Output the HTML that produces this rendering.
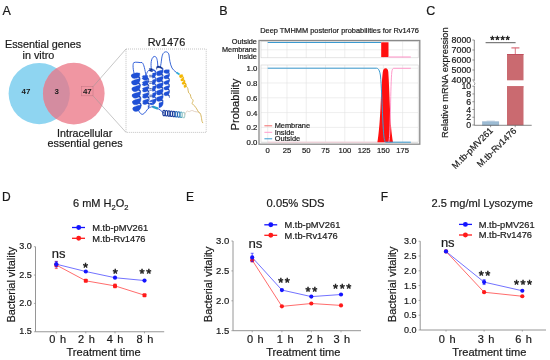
<!DOCTYPE html>
<html><head><meta charset="utf-8"><style>
html,body{margin:0;padding:0;background:#fff;}
svg{display:block;font-family:"Liberation Sans", sans-serif;will-change:transform;filter:blur(0.3px);}
text{stroke:#1a1a1a;stroke-width:0.2px;}
text.lt{stroke-width:0.2px;}
</style></head><body>
<svg width="550" height="360" viewBox="0 0 550 360">
<rect width="550" height="360" fill="#fff"/>
<text x="2.60" y="14.80" font-size="12.5" text-anchor="start" fill="#1a1a1a" >A</text>
<text x="219.30" y="14.80" font-size="12.5" text-anchor="start" fill="#1a1a1a" >B</text>
<text x="426.20" y="14.70" font-size="12.5" text-anchor="start" fill="#1a1a1a" >C</text>
<text x="1.90" y="201.20" font-size="12" text-anchor="start" fill="#1a1a1a" >D</text>
<text x="186.00" y="201.40" font-size="12" text-anchor="start" fill="#1a1a1a" >E</text>
<text x="380.80" y="200.80" font-size="12" text-anchor="start" fill="#1a1a1a" >F</text>
<text x="5.00" y="47.90" font-size="10.8" text-anchor="start" fill="#1a1a1a" >Essential genes</text>
<text x="22.50" y="58.70" font-size="10.8" text-anchor="start" fill="#1a1a1a" >in vitro</text>
<defs><clipPath id="cb"><circle cx="39.2" cy="93.6" r="30.6"/></clipPath></defs>
<circle cx="39.2" cy="93.6" r="30.6" fill="#8fd5f1"/>
<circle cx="73.8" cy="93.6" r="30.8" fill="#f096a2"/>
<circle cx="73.8" cy="93.6" r="30.8" fill="#d48ca0" clip-path="url(#cb)"/>
<text x="26.00" y="94.20" font-size="7.9" text-anchor="middle" fill="#1a1a1a" font-weight="bold" style="stroke-width:0">47</text>
<text x="56.60" y="94.20" font-size="7.9" text-anchor="middle" fill="#1a1a1a" font-weight="bold" style="stroke-width:0">3</text>
<text x="87.30" y="94.20" font-size="7.9" text-anchor="middle" fill="#1a1a1a" font-weight="bold" style="stroke-width:0">47</text>
<rect x="81.3" y="86.7" width="11.7" height="9.1" fill="none" stroke="#c07482" stroke-width="0.5"/>
<line x1="93" y1="86.7" x2="126" y2="49" stroke="#999" stroke-width="0.55"/>
<line x1="93" y1="95.8" x2="126" y2="132.4" stroke="#999" stroke-width="0.55"/>
<rect x="126" y="49" width="80.2" height="83.4" fill="none" stroke="#b4b4b4" stroke-width="0.8" stroke-dasharray="1,1"/>
<text x="147.70" y="45.90" font-size="10.9" text-anchor="start" fill="#1a1a1a" >Rv1476</text>
<text x="57.00" y="136.90" font-size="10.7" text-anchor="start" fill="#1a1a1a" >Intracellular</text>
<text x="47.50" y="147.40" font-size="10.8" text-anchor="start" fill="#1a1a1a" >essential genes</text>
<path d="M134.5,75 C133,70 132.5,64 133.8,62.6 C136,61.5 140,63 142,62.5 C144,64 145,70 146,76" fill="none" stroke="#1f50d6" stroke-width="0.9"/>
<path d="M146,76 C147,72 148,70 150,70" fill="none" stroke="#1f50d6" stroke-width="0.9"/>
<path d="M151.5,70 C150.5,64 151,58 154,56.5 C156,56 157,58 157.5,62 L158,68" fill="none" stroke="#1f50d6" stroke-width="0.9"/>
<path d="M160,68 C162,62 161,55 164,52.5 C166,51 168.5,52 169,55 C169.5,59 170,64 172,68 C174,71 176,72 177.6,73.3" fill="none" stroke="#2458d0" stroke-width="0.9"/>
<path d="M176.5,72.5 L179.5,74.5" stroke="#30b0d8" stroke-width="1.8"/>
<path d="M137.7,108.4 C139,112 141,115 143,114.2 C145.5,113 146.5,110 148.4,108.4" fill="none" stroke="#1f50d6" stroke-width="0.9"/>
<path d="M148.4,108.4 C150,107 151.5,107 153,106.4" fill="none" stroke="#1f50d6" stroke-width="0.9"/>
<path d="M152.5,106.6 L158,108.6" stroke="#2aa0c8" stroke-width="2.2"/>
<path d="M158,108.6 C159.5,109.5 161,110.5 162.5,112" fill="none" stroke="#1f50d6" stroke-width="0.9"/>
<polygon points="131.44,75.05 131.54,74.93 131.85,74.81 132.34,74.72 133.01,74.68 133.81,74.69 134.70,74.76 135.64,74.92 136.59,75.15 137.49,75.47 138.30,75.86 138.99,76.32 139.51,76.84 139.85,77.40 139.98,77.98 140.05,79.54 139.92,78.95 139.58,78.39 139.06,77.88 138.37,77.42 137.56,77.03 136.65,76.71 135.71,76.48 134.77,76.32 133.87,76.24 133.08,76.23 132.41,76.28 131.92,76.37 131.61,76.49 131.51,76.61" fill="#1238a8" stroke="#1238a8" stroke-width="0.3"/>
<polygon points="131.73,81.65 131.83,81.52 132.14,81.41 132.63,81.32 133.30,81.27 134.10,81.28 134.99,81.36 135.93,81.51 136.88,81.75 137.78,82.06 138.59,82.45 139.28,82.91 139.80,83.43 140.14,83.99 140.27,84.58 140.34,86.13 140.20,85.55 139.87,84.99 139.35,84.47 138.66,84.01 137.85,83.62 136.94,83.31 136.00,83.07 135.06,82.92 134.16,82.84 133.37,82.83 132.70,82.87 132.21,82.96 131.90,83.08 131.80,83.21" fill="#1238a8" stroke="#1238a8" stroke-width="0.3"/>
<polygon points="132.02,88.24 132.12,88.12 132.43,88.00 132.92,87.91 133.59,87.86 134.38,87.87 135.28,87.95 136.22,88.11 137.16,88.34 138.07,88.66 138.88,89.05 139.57,89.51 140.09,90.02 140.43,90.58 140.56,91.17 140.62,92.73 140.49,92.14 140.16,91.58 139.63,91.06 138.95,90.61 138.13,90.21 137.23,89.90 136.29,89.66 135.34,89.51 134.45,89.43 133.65,89.42 132.99,89.47 132.49,89.56 132.19,89.67 132.09,89.80" fill="#1238a8" stroke="#1238a8" stroke-width="0.3"/>
<polygon points="132.31,94.83 132.41,94.71 132.72,94.59 133.21,94.50 133.88,94.46 134.67,94.47 135.57,94.55 136.51,94.70 137.45,94.93 138.36,95.25 139.17,95.64 139.86,96.10 140.38,96.62 140.71,97.18 140.85,97.76 140.91,99.32 140.78,98.74 140.45,98.18 139.92,97.66 139.24,97.20 138.42,96.81 137.52,96.49 136.58,96.26 135.63,96.10 134.74,96.03 133.94,96.02 133.28,96.06 132.78,96.15 132.48,96.27 132.38,96.39" fill="#1238a8" stroke="#1238a8" stroke-width="0.3"/>
<polygon points="132.60,101.43 132.70,101.30 133.00,101.19 133.50,101.10 134.16,101.05 134.96,101.06 135.85,101.14 136.80,101.29 137.74,101.53 138.64,101.84 139.46,102.23 140.14,102.69 140.67,103.21 141.00,103.77 141.13,104.36 141.20,105.92 141.07,105.33 140.74,104.77 140.21,104.25 139.53,103.79 138.71,103.40 137.81,103.09 136.86,102.85 135.92,102.70 135.03,102.62 134.23,102.61 133.57,102.66 133.07,102.75 132.77,102.86 132.67,102.99" fill="#1238a8" stroke="#1238a8" stroke-width="0.3"/>
<polygon points="132.89,108.02 132.92,107.95 133.02,107.88 133.19,107.81 133.42,107.75 133.71,107.70 134.05,107.67 134.45,107.64 134.89,107.64 135.37,107.66 135.88,107.70 136.41,107.77 136.95,107.86 137.49,107.98 138.03,108.12 138.10,109.68 137.56,109.54 137.02,109.42 136.48,109.33 135.95,109.26 135.44,109.22 134.96,109.20 134.52,109.20 134.12,109.22 133.78,109.26 133.48,109.31 133.25,109.37 133.09,109.44 132.99,109.51 132.96,109.58" fill="#1238a8" stroke="#1238a8" stroke-width="0.3"/>
<polygon points="139.77,73.17 139.66,73.07 139.34,72.99 138.84,72.93 138.17,72.88 137.37,72.87 136.49,72.87 135.55,72.90 134.63,73.19 133.75,73.50 132.97,73.82 132.32,74.16 131.83,74.50 131.54,74.84 131.45,75.18 131.50,76.48 131.64,77.05 131.97,77.57 132.49,78.01 133.17,78.32 133.97,78.49 134.86,78.48 135.79,78.30 136.72,78.16 137.59,77.85 138.37,77.39 139.01,76.78 139.48,76.07 139.75,75.28 139.82,74.47" fill="#1f50d6" stroke="#1f50d6" stroke-width="0.3"/>
<polygon points="139.98,78.11 139.89,78.25 139.58,78.41 139.09,78.58 138.43,78.77 137.64,78.99 136.76,79.23 135.84,79.49 134.92,79.78 134.04,80.09 133.26,80.41 132.61,80.75 132.12,81.09 131.83,81.44 131.74,81.78 131.79,83.08 131.92,83.65 132.26,84.17 132.78,84.60 133.46,84.92 134.26,85.08 135.15,85.07 136.08,84.89 137.00,84.52 137.86,83.98 138.63,83.27 139.26,82.43 139.72,81.48 139.98,80.46 140.04,79.41" fill="#1f50d6" stroke="#1f50d6" stroke-width="0.3"/>
<polygon points="140.27,84.71 140.17,84.85 139.87,85.00 139.38,85.17 138.72,85.37 137.93,85.58 137.05,85.82 136.13,86.09 135.21,86.38 134.33,86.68 133.55,87.01 132.90,87.34 132.41,87.69 132.12,88.03 132.03,88.37 132.08,89.67 132.21,90.24 132.55,90.76 133.07,91.20 133.75,91.51 134.55,91.67 135.44,91.67 136.37,91.48 137.29,91.12 138.15,90.57 138.92,89.87 139.55,89.02 140.00,88.08 140.27,87.06 140.33,86.00" fill="#1f50d6" stroke="#1f50d6" stroke-width="0.3"/>
<polygon points="140.56,91.30 140.46,91.44 140.16,91.59 139.67,91.77 139.01,91.96 138.22,92.18 137.34,92.42 136.42,92.68 135.50,92.97 134.62,93.28 133.84,93.60 133.19,93.94 132.70,94.28 132.41,94.62 132.31,94.96 132.37,96.26 132.50,96.83 132.84,97.36 133.36,97.79 134.04,98.10 134.84,98.27 135.73,98.26 136.66,98.08 137.57,97.71 138.44,97.16 139.21,96.46 139.83,95.62 140.29,94.67 140.56,93.65 140.62,92.60" fill="#1f50d6" stroke="#1f50d6" stroke-width="0.3"/>
<polygon points="140.85,97.89 140.75,98.03 140.45,98.19 139.95,98.36 139.30,98.55 138.51,98.77 137.63,99.01 136.71,99.28 135.79,99.56 134.91,99.87 134.13,100.19 133.48,100.53 132.99,100.87 132.69,101.22 132.60,101.56 132.66,102.86 132.79,103.43 133.13,103.95 133.65,104.38 134.32,104.70 135.13,104.86 136.02,104.86 136.94,104.67 137.86,104.30 138.73,103.76 139.49,103.05 140.12,102.21 140.58,101.26 140.85,100.24 140.91,99.19" fill="#1f50d6" stroke="#1f50d6" stroke-width="0.3"/>
<polygon points="141.14,104.49 141.04,104.63 140.74,104.78 140.24,104.95 139.59,105.15 138.80,105.36 137.92,105.60 137.00,105.87 136.07,106.16 135.20,106.46 134.42,106.79 133.77,107.12 133.28,107.47 132.98,107.81 132.89,108.15 132.95,109.45 133.08,110.02 133.41,110.54 133.93,110.98 134.61,111.29 135.42,111.45 136.31,111.45 137.23,111.26 138.15,110.90 139.02,110.35 139.78,109.65 140.41,108.81 140.87,107.86 141.14,106.84 141.20,105.79" fill="#1f50d6" stroke="#1f50d6" stroke-width="0.3"/>
<polygon points="143.03,76.31 143.63,76.33 144.32,76.41 145.07,76.55 145.84,76.76 146.58,77.04 147.27,77.39 147.87,77.79 148.34,78.25 148.67,78.75 148.84,79.28 148.84,79.81 148.67,80.34 148.34,80.85 147.87,81.33 147.90,82.88 148.37,82.41 148.70,81.90 148.87,81.37 148.87,80.84 148.70,80.31 148.37,79.81 147.90,79.35 147.30,78.95 146.61,78.60 145.87,78.32 145.10,78.11 144.35,77.97 143.66,77.89 143.06,77.87" fill="#1238a8" stroke="#1238a8" stroke-width="0.3"/>
<polygon points="143.15,82.51 143.76,82.53 144.45,82.61 145.20,82.75 145.96,82.96 146.71,83.24 147.40,83.59 147.99,83.99 148.47,84.45 148.80,84.95 148.97,85.48 148.97,86.01 148.80,86.54 148.47,87.05 147.99,87.52 148.03,89.08 148.50,88.61 148.83,88.10 149.00,87.57 149.00,87.04 148.83,86.51 148.50,86.01 148.02,85.55 147.43,85.14 146.74,84.80 145.99,84.52 145.23,84.31 144.48,84.17 143.79,84.09 143.18,84.07" fill="#1238a8" stroke="#1238a8" stroke-width="0.3"/>
<polygon points="143.28,88.71 143.88,88.73 144.57,88.80 145.32,88.95 146.09,89.16 146.83,89.44 147.52,89.78 148.12,90.19 148.59,90.65 148.92,91.15 149.09,91.68 149.09,92.21 148.92,92.74 148.59,93.25 148.12,93.72 148.15,95.28 148.63,94.81 148.96,94.30 149.12,93.77 149.12,93.24 148.96,92.71 148.63,92.21 148.15,91.75 147.55,91.34 146.86,91.00 146.12,90.72 145.35,90.50 144.61,90.36 143.91,90.29 143.31,90.27" fill="#1238a8" stroke="#1238a8" stroke-width="0.3"/>
<polygon points="143.41,94.91 144.01,94.93 144.70,95.00 145.45,95.14 146.21,95.35 146.96,95.63 147.65,95.98 148.24,96.39 148.72,96.85 149.05,97.35 149.22,97.87 149.22,98.41 149.05,98.94 148.72,99.45 148.25,99.92 148.28,101.48 148.75,101.01 149.08,100.50 149.25,99.97 149.25,99.43 149.08,98.91 148.75,98.41 148.28,97.95 147.68,97.54 146.99,97.19 146.25,96.91 145.48,96.70 144.73,96.56 144.04,96.49 143.44,96.47" fill="#1238a8" stroke="#1238a8" stroke-width="0.3"/>
<polygon points="143.53,101.11 144.13,101.13 144.83,101.20 145.57,101.34 146.34,101.55 147.09,101.83 147.77,102.18 148.37,102.59 148.85,103.05 149.18,103.55 149.35,104.07 149.35,104.61 149.18,105.14 148.85,105.65 148.37,106.12 148.40,107.68 148.88,107.21 149.21,106.70 149.38,106.17 149.38,105.63 149.21,105.11 148.88,104.61 148.40,104.15 147.81,103.74 147.12,103.39 146.37,103.11 145.61,102.90 144.86,102.76 144.17,102.69 143.56,102.67" fill="#1238a8" stroke="#1238a8" stroke-width="0.3"/>
<polygon points="147.75,75.55 147.15,75.52 146.46,75.50 145.71,75.50 144.95,75.51 144.21,75.55 143.53,75.59 142.94,75.66 142.48,75.95 142.17,76.25 142.02,76.55 142.03,76.63 142.21,76.54 142.55,76.47 143.03,76.44 143.06,77.74 142.57,77.77 142.23,77.84 142.06,77.93 142.05,78.19 142.22,78.65 142.55,79.07 143.02,79.39 143.62,79.83 144.30,80.13 145.05,80.28 145.81,80.28 146.55,80.12 147.23,79.80 147.83,79.36" fill="#1f50d6" stroke="#1f50d6" stroke-width="0.3"/>
<polygon points="147.84,80.20 147.25,80.39 146.56,80.59 145.82,80.81 145.06,81.05 144.33,81.30 143.65,81.57 143.07,81.85 142.61,82.15 142.30,82.45 142.14,82.75 142.16,82.83 142.33,82.74 142.67,82.67 143.16,82.64 143.18,83.94 142.70,83.97 142.36,84.04 142.18,84.13 142.18,84.39 142.34,84.85 142.67,85.27 143.15,85.59 143.74,85.81 144.42,85.89 145.16,85.82 145.92,85.59 146.65,85.21 147.33,84.68 147.92,84.01" fill="#1f50d6" stroke="#1f50d6" stroke-width="0.3"/>
<polygon points="147.97,86.40 147.37,86.58 146.69,86.79 145.95,87.01 145.19,87.25 144.45,87.50 143.78,87.77 143.20,88.05 142.74,88.35 142.42,88.65 142.27,88.95 142.28,89.02 142.46,88.94 142.80,88.87 143.28,88.84 143.31,90.14 142.83,90.17 142.49,90.24 142.31,90.32 142.30,90.59 142.47,91.05 142.80,91.46 143.27,91.79 143.86,92.01 144.55,92.09 145.29,92.02 146.04,91.79 146.78,91.41 147.46,90.87 148.05,90.21" fill="#1f50d6" stroke="#1f50d6" stroke-width="0.3"/>
<polygon points="148.10,92.60 147.50,92.78 146.81,92.99 146.07,93.21 145.31,93.44 144.58,93.70 143.90,93.97 143.32,94.25 142.86,94.54 142.55,94.84 142.39,95.15 142.41,95.22 142.59,95.14 142.92,95.07 143.41,95.04 143.43,96.34 142.95,96.37 142.61,96.44 142.43,96.52 142.43,96.79 142.60,97.25 142.92,97.66 143.40,97.99 143.99,98.20 144.67,98.28 145.41,98.21 146.17,97.99 146.91,97.60 147.59,97.07 148.17,96.41" fill="#1f50d6" stroke="#1f50d6" stroke-width="0.3"/>
<polygon points="148.22,98.80 147.62,98.98 146.94,99.18 146.20,99.40 145.44,99.64 144.71,99.90 144.03,100.17 143.45,100.45 142.99,100.74 142.67,101.04 142.52,101.34 142.53,101.42 142.71,101.34 143.05,101.27 143.53,101.24 143.56,102.54 143.08,102.57 142.74,102.64 142.56,102.72 142.55,102.98 142.72,103.45 143.05,103.86 143.52,104.19 144.12,104.40 144.80,104.48 145.54,104.41 146.29,104.19 147.03,103.80 147.71,103.27 148.30,102.61" fill="#1f50d6" stroke="#1f50d6" stroke-width="0.3"/>
<polygon points="148.35,104.99 148.34,105.00 148.33,105.00 148.32,105.00 148.31,105.01 148.30,105.01 148.29,105.01 148.28,105.02 148.27,105.02 148.26,105.02 148.25,105.03 148.24,105.03 148.23,105.03 148.22,105.04 148.21,105.04 148.29,108.98 148.30,108.97 148.31,108.96 148.32,108.95 148.33,108.93 148.34,108.92 148.35,108.91 148.36,108.90 148.37,108.88 148.38,108.87 148.39,108.86 148.40,108.84 148.41,108.83 148.42,108.82 148.43,108.80" fill="#1f50d6" stroke="#1f50d6" stroke-width="0.3"/>
<polygon points="152.50,70.12 151.75,70.08 151.04,69.97 150.41,69.80 149.88,69.58 149.49,69.31 149.26,69.01 149.20,68.70 149.30,68.62 149.58,68.56 150.00,68.54 150.55,68.56 151.21,68.63 151.94,68.76 152.70,68.97 152.71,70.53 151.95,70.32 151.22,70.19 150.56,70.12 150.01,70.10 149.58,70.12 149.31,70.18 149.21,70.26 149.27,70.57 149.50,70.87 149.89,71.14 150.41,71.36 151.05,71.53 151.76,71.64 152.51,71.68" fill="#0d2f90" stroke="#0d2f90" stroke-width="0.3"/>
<polygon points="152.53,75.07 151.78,75.27 151.07,75.39 150.44,75.46 149.92,75.47 149.53,75.44 149.30,75.38 149.24,75.30 149.34,75.22 149.61,75.16 150.04,75.14 150.59,75.16 151.25,75.23 151.97,75.36 152.73,75.57 152.74,77.13 151.98,76.92 151.26,76.79 150.60,76.71 150.05,76.70 149.62,76.72 149.35,76.78 149.24,76.86 149.31,76.94 149.54,77.00 149.92,77.03 150.45,77.02 151.08,76.95 151.79,76.83 152.54,76.63" fill="#0d2f90" stroke="#0d2f90" stroke-width="0.3"/>
<polygon points="152.57,81.67 151.82,81.87 151.11,81.99 150.48,82.06 149.95,82.07 149.57,82.04 149.34,81.97 149.27,81.90 149.38,81.82 149.65,81.76 150.08,81.74 150.63,81.75 151.29,81.83 152.01,81.96 152.77,82.17 152.78,83.73 152.02,83.52 151.30,83.39 150.64,83.31 150.08,83.30 149.66,83.32 149.39,83.38 149.28,83.46 149.35,83.53 149.58,83.60 149.96,83.63 150.49,83.62 151.12,83.55 151.83,83.43 152.58,83.23" fill="#0d2f90" stroke="#0d2f90" stroke-width="0.3"/>
<polygon points="152.61,88.27 151.86,88.47 151.15,88.59 150.51,88.66 149.99,88.67 149.61,88.64 149.38,88.57 149.31,88.50 149.42,88.42 149.69,88.36 150.11,88.34 150.67,88.35 151.32,88.43 152.05,88.56 152.81,88.77 152.82,90.33 152.06,90.12 151.33,89.99 150.68,89.91 150.12,89.90 149.70,89.92 149.43,89.98 149.32,90.06 149.38,90.13 149.61,90.20 150.00,90.23 150.52,90.22 151.16,90.15 151.87,90.03 152.62,89.83" fill="#0d2f90" stroke="#0d2f90" stroke-width="0.3"/>
<polygon points="152.65,94.87 151.90,95.07 151.18,95.19 150.55,95.26 150.03,95.27 149.64,95.24 149.41,95.17 149.35,95.10 149.46,95.02 149.73,94.96 150.15,94.94 150.71,94.95 151.36,95.03 152.09,95.16 152.85,95.37 152.86,96.93 152.10,96.72 151.37,96.59 150.72,96.51 150.16,96.50 149.74,96.52 149.47,96.58 149.36,96.66 149.42,96.73 149.65,96.80 150.04,96.83 150.56,96.82 151.19,96.75 151.90,96.63 152.66,96.43" fill="#0d2f90" stroke="#0d2f90" stroke-width="0.3"/>
<polygon points="152.70,69.10 153.45,69.38 154.17,69.72 154.80,70.13 155.33,70.59 155.71,71.09 155.95,71.62 156.01,72.12 155.91,72.25 155.64,72.40 155.21,72.55 154.66,72.72 154.00,72.91 153.28,73.12 152.52,73.35 152.55,78.35 153.31,78.05 154.03,77.59 154.68,76.98 155.23,76.24 155.65,75.40 155.92,74.48 156.02,73.53 155.96,72.92 155.72,72.39 155.33,71.89 154.81,71.43 154.17,71.02 153.46,70.68 152.70,70.40" fill="#1f50d6" stroke="#1f50d6" stroke-width="0.3"/>
<polygon points="152.74,75.70 153.49,75.98 154.20,76.32 154.84,76.73 155.36,77.19 155.75,77.69 155.99,78.22 156.05,78.72 155.95,78.85 155.67,79.00 155.25,79.15 154.70,79.32 154.04,79.51 153.32,79.72 152.56,79.95 152.59,84.95 153.35,84.65 154.07,84.19 154.72,83.58 155.27,82.84 155.69,82.00 155.96,81.08 156.06,80.13 155.99,79.52 155.76,78.99 155.37,78.49 154.85,78.03 154.21,77.62 153.50,77.28 152.74,77.00" fill="#1f50d6" stroke="#1f50d6" stroke-width="0.3"/>
<polygon points="152.77,82.30 153.53,82.58 154.24,82.92 154.88,83.33 155.40,83.79 155.79,84.29 156.02,84.82 156.09,85.32 155.98,85.45 155.71,85.60 155.29,85.75 154.74,85.92 154.08,86.11 153.36,86.32 152.60,86.55 152.63,91.55 153.39,91.25 154.11,90.79 154.76,90.18 155.31,89.44 155.73,88.60 156.00,87.68 156.10,86.72 156.03,86.12 155.80,85.59 155.41,85.09 154.88,84.63 154.25,84.22 153.54,83.88 152.78,83.60" fill="#1f50d6" stroke="#1f50d6" stroke-width="0.3"/>
<polygon points="152.81,88.90 153.57,89.18 154.28,89.52 154.92,89.93 155.44,90.39 155.83,90.89 156.06,91.42 156.13,91.92 156.02,92.05 155.75,92.20 155.33,92.35 154.77,92.52 154.12,92.71 153.40,92.92 152.64,93.15 152.67,98.15 153.42,97.85 154.15,97.39 154.80,96.78 155.35,96.04 155.77,95.20 156.03,94.28 156.14,93.32 156.07,92.72 155.84,92.19 155.45,91.69 154.92,91.23 154.29,90.82 153.57,90.48 152.82,90.20" fill="#1f50d6" stroke="#1f50d6" stroke-width="0.3"/>
<polygon points="152.85,95.50 153.61,95.78 154.32,96.12 154.95,96.53 155.48,96.99 155.87,97.49 156.10,98.02 156.17,98.52 156.06,98.65 155.79,98.80 155.37,98.95 154.81,99.12 154.16,99.31 153.43,99.52 152.68,99.75 152.71,104.75 153.46,104.45 154.19,103.99 154.84,103.38 155.39,102.64 155.81,101.80 156.07,100.88 156.17,99.92 156.11,99.32 155.87,98.79 155.49,98.29 154.96,97.83 154.33,97.42 153.61,97.08 152.86,96.80" fill="#1f50d6" stroke="#1f50d6" stroke-width="0.3"/>
<polygon points="152.68,99.75 151.96,99.99 151.28,100.25 150.66,100.53 150.15,100.83 149.75,101.14 149.50,101.45 149.39,101.78 149.44,101.78 149.64,101.72 149.98,101.67 150.45,101.67 151.03,101.71 151.69,101.81 152.40,101.96 152.41,103.26 151.70,103.11 151.04,103.01 150.46,102.97 149.99,102.97 149.65,103.02 149.44,103.08 149.40,103.23 149.51,103.69 149.77,104.12 150.17,104.47 150.69,104.73 151.30,104.87 151.99,104.88 152.71,104.75" fill="#1f50d6" stroke="#1f50d6" stroke-width="0.3"/>
<polygon points="156.89,67.94 156.57,67.66 156.41,67.35 156.43,67.04 156.61,66.73 156.96,66.45 157.44,66.21 158.05,66.02 158.74,66.12 159.48,66.28 160.25,66.52 160.99,66.82 161.66,67.19 162.25,67.62 162.71,68.10 162.71,69.66 162.25,69.18 161.66,68.75 160.99,68.38 160.25,68.08 159.48,67.84 158.74,67.68 158.05,67.58 157.44,67.77 156.96,68.01 156.61,68.29 156.43,68.60 156.41,68.91 156.57,69.22 156.89,69.50" fill="#0d2f90" stroke="#0d2f90" stroke-width="0.3"/>
<polygon points="156.89,72.74 156.57,72.69 156.41,72.61 156.43,72.52 156.61,72.45 156.96,72.40 157.44,72.38 158.05,72.42 158.74,72.52 159.48,72.68 160.25,72.92 160.99,73.22 161.66,73.59 162.25,74.02 162.71,74.50 162.71,76.06 162.25,75.58 161.66,75.15 160.99,74.78 160.25,74.48 159.48,74.24 158.74,74.08 158.05,73.98 157.44,73.94 156.96,73.96 156.61,74.01 156.43,74.08 156.41,74.17 156.57,74.25 156.89,74.30" fill="#0d2f90" stroke="#0d2f90" stroke-width="0.3"/>
<polygon points="156.89,79.14 156.57,79.09 156.41,79.01 156.43,78.92 156.61,78.85 156.96,78.80 157.44,78.78 158.05,78.82 158.74,78.92 159.48,79.08 160.25,79.32 160.99,79.62 161.66,79.99 162.25,80.42 162.71,80.90 162.71,82.46 162.25,81.98 161.66,81.55 160.99,81.18 160.25,80.88 159.48,80.64 158.74,80.48 158.05,80.38 157.44,80.34 156.96,80.36 156.61,80.41 156.43,80.48 156.41,80.57 156.57,80.65 156.89,80.70" fill="#0d2f90" stroke="#0d2f90" stroke-width="0.3"/>
<polygon points="156.89,85.54 156.57,85.49 156.41,85.41 156.43,85.32 156.61,85.25 156.96,85.20 157.44,85.18 158.05,85.22 158.74,85.32 159.48,85.48 160.25,85.72 160.99,86.02 161.66,86.39 162.25,86.82 162.71,87.30 162.71,88.86 162.25,88.38 161.66,87.95 160.99,87.58 160.25,87.28 159.48,87.04 158.74,86.88 158.05,86.78 157.44,86.74 156.96,86.76 156.61,86.81 156.43,86.88 156.41,86.97 156.57,87.05 156.89,87.10" fill="#0d2f90" stroke="#0d2f90" stroke-width="0.3"/>
<polygon points="156.89,91.94 156.57,91.89 156.41,91.81 156.43,91.72 156.61,91.65 156.96,91.60 157.44,91.58 158.05,91.62 158.74,91.72 159.48,91.88 160.25,92.12 160.99,92.42 161.66,92.79 162.25,93.22 162.71,93.70 162.71,95.26 162.25,94.78 161.66,94.35 160.99,93.98 160.25,93.68 159.48,93.44 158.74,93.28 158.05,93.18 157.44,93.14 156.96,93.16 156.61,93.21 156.43,93.28 156.41,93.37 156.57,93.45 156.89,93.50" fill="#0d2f90" stroke="#0d2f90" stroke-width="0.3"/>
<polygon points="156.89,98.34 156.57,98.29 156.41,98.21 156.43,98.12 156.61,98.05 156.96,98.00 157.44,97.98 158.05,98.02 158.74,98.12 159.48,98.28 160.25,98.52 160.99,98.82 161.66,99.19 162.25,99.62 162.71,100.10 162.71,101.66 162.25,101.18 161.66,100.75 160.99,100.38 160.25,100.08 159.48,99.84 158.74,99.68 158.05,99.58 157.44,99.54 156.96,99.56 156.61,99.61 156.43,99.68 156.41,99.77 156.57,99.85 156.89,99.90" fill="#0d2f90" stroke="#0d2f90" stroke-width="0.3"/>
<polygon points="162.71,68.23 163.03,68.74 163.19,69.28 163.17,69.58 162.99,69.71 162.64,69.85 162.16,70.00 161.55,70.16 160.86,70.35 160.12,70.56 159.35,70.79 158.61,71.04 157.94,71.32 157.35,71.61 156.89,71.92 156.89,75.13 157.35,75.47 157.94,75.71 158.61,75.81 159.35,75.76 160.12,75.54 160.86,75.17 161.55,74.63 162.16,73.96 162.64,73.18 162.99,72.30 163.17,71.36 163.19,70.58 163.03,70.04 162.71,69.53" fill="#1f50d6" stroke="#1f50d6" stroke-width="0.3"/>
<polygon points="162.71,74.63 163.03,75.14 163.19,75.68 163.17,75.98 162.99,76.11 162.64,76.25 162.16,76.40 161.55,76.56 160.86,76.75 160.12,76.96 159.35,77.19 158.61,77.44 157.94,77.72 157.35,78.01 156.89,78.32 156.89,81.53 157.35,81.87 157.94,82.11 158.61,82.21 159.35,82.16 160.12,81.94 160.86,81.57 161.55,81.03 162.16,80.36 162.64,79.58 162.99,78.70 163.17,77.76 163.19,76.98 163.03,76.44 162.71,75.93" fill="#1f50d6" stroke="#1f50d6" stroke-width="0.3"/>
<polygon points="162.71,81.03 163.03,81.54 163.19,82.08 163.17,82.38 162.99,82.51 162.64,82.65 162.16,82.80 161.55,82.96 160.86,83.15 160.12,83.36 159.35,83.59 158.61,83.84 157.94,84.12 157.35,84.41 156.89,84.72 156.89,87.93 157.35,88.27 157.94,88.51 158.61,88.61 159.35,88.56 160.12,88.34 160.86,87.97 161.55,87.43 162.16,86.76 162.64,85.98 162.99,85.10 163.17,84.16 163.19,83.38 163.03,82.84 162.71,82.33" fill="#1f50d6" stroke="#1f50d6" stroke-width="0.3"/>
<polygon points="162.71,87.43 163.03,87.94 163.19,88.48 163.17,88.78 162.99,88.91 162.64,89.05 162.16,89.20 161.55,89.36 160.86,89.55 160.12,89.76 159.35,89.99 158.61,90.24 157.94,90.52 157.35,90.81 156.89,91.12 156.89,94.33 157.35,94.67 157.94,94.91 158.61,95.01 159.35,94.96 160.12,94.74 160.86,94.37 161.55,93.83 162.16,93.16 162.64,92.38 162.99,91.50 163.17,90.56 163.19,89.78 163.03,89.24 162.71,88.73" fill="#1f50d6" stroke="#1f50d6" stroke-width="0.3"/>
<polygon points="162.71,93.83 163.03,94.34 163.19,94.88 163.17,95.18 162.99,95.31 162.64,95.45 162.16,95.60 161.55,95.76 160.86,95.95 160.12,96.16 159.35,96.39 158.61,96.64 157.94,96.92 157.35,97.21 156.89,97.52 156.89,100.73 157.35,101.07 157.94,101.31 158.61,101.41 159.35,101.36 160.12,101.14 160.86,100.77 161.55,100.23 162.16,99.56 162.64,98.78 162.99,97.90 163.17,96.96 163.19,96.18 163.03,95.64 162.71,95.13" fill="#1f50d6" stroke="#1f50d6" stroke-width="0.3"/>
<polygon points="162.71,100.23 162.97,100.61 163.13,101.01 163.20,101.41 163.17,101.58 163.05,101.67 162.83,101.78 162.53,101.88 162.16,102.00 161.71,102.12 161.22,102.26 160.68,102.40 160.12,102.56 159.54,102.73 158.98,102.91 158.98,107.80 159.54,107.72 160.12,107.54 160.68,107.28 161.22,106.92 161.71,106.48 162.16,105.96 162.53,105.38 162.83,104.75 163.05,104.07 163.17,103.36 163.20,102.71 163.13,102.31 162.97,101.91 162.71,101.53" fill="#1f50d6" stroke="#1f50d6" stroke-width="0.3"/>
<polygon points="164.31,70.81 164.61,70.80 165.02,70.81 165.51,70.87 166.07,70.98 166.67,71.14 167.27,71.36 167.85,71.63 168.38,71.95 168.83,72.31 169.17,72.71 169.40,73.14 169.50,73.59 169.46,74.03 169.29,74.47 169.29,75.79 169.46,75.35 169.50,74.91 169.40,74.46 169.17,74.03 168.83,73.63 168.38,73.27 167.85,72.95 167.27,72.68 166.67,72.46 166.07,72.30 165.51,72.19 165.02,72.13 164.61,72.12 164.31,72.13" fill="#1238a8" stroke="#1238a8" stroke-width="0.3"/>
<polygon points="164.31,76.41 164.61,76.40 165.02,76.41 165.51,76.47 166.07,76.58 166.67,76.74 167.27,76.96 167.85,77.23 168.38,77.55 168.83,77.91 169.17,78.31 169.40,78.74 169.50,79.19 169.46,79.63 169.29,80.07 169.29,81.39 169.46,80.95 169.50,80.51 169.40,80.06 169.17,79.63 168.83,79.23 168.38,78.87 167.85,78.55 167.27,78.28 166.67,78.06 166.07,77.90 165.51,77.79 165.02,77.73 164.61,77.72 164.31,77.73" fill="#1238a8" stroke="#1238a8" stroke-width="0.3"/>
<polygon points="164.31,82.01 164.61,82.00 165.02,82.01 165.51,82.07 166.07,82.18 166.67,82.34 167.27,82.56 167.85,82.83 168.38,83.15 168.83,83.51 169.17,83.91 169.40,84.34 169.50,84.79 169.46,85.23 169.29,85.67 169.29,86.99 169.46,86.55 169.50,86.11 169.40,85.66 169.17,85.23 168.83,84.83 168.38,84.47 167.85,84.15 167.27,83.88 166.67,83.66 166.07,83.50 165.51,83.39 165.02,83.33 164.61,83.32 164.31,83.33" fill="#1238a8" stroke="#1238a8" stroke-width="0.3"/>
<polygon points="164.31,87.61 164.61,87.60 165.02,87.61 165.51,87.67 166.07,87.78 166.67,87.94 167.27,88.16 167.85,88.43 168.38,88.75 168.83,89.11 169.17,89.51 169.40,89.94 169.50,90.39 169.46,90.83 169.29,91.27 169.29,92.59 169.46,92.15 169.50,91.71 169.40,91.26 169.17,90.83 168.83,90.43 168.38,90.07 167.85,89.75 167.27,89.48 166.67,89.26 166.07,89.10 165.51,88.99 165.02,88.93 164.61,88.92 164.31,88.93" fill="#1238a8" stroke="#1238a8" stroke-width="0.3"/>
<polygon points="164.31,93.21 164.60,93.20 164.98,93.21 165.45,93.26 165.99,93.36 166.56,93.51 167.14,93.71 167.71,93.95 168.23,94.25 168.69,94.59 169.06,94.97 169.33,95.37 169.47,95.80 169.49,96.23 169.39,96.65 169.39,97.97 169.49,97.55 169.47,97.12 169.33,96.69 169.06,96.29 168.69,95.91 168.23,95.57 167.71,95.27 167.14,95.03 166.56,94.83 165.99,94.68 165.45,94.58 164.98,94.53 164.60,94.52 164.31,94.53" fill="#1238a8" stroke="#1238a8" stroke-width="0.3"/>
<polygon points="169.29,69.85 168.99,69.80 168.58,69.76 168.09,69.73 167.53,69.71 166.93,69.70 166.33,69.70 165.75,69.72 165.22,69.95 164.77,70.18 164.43,70.43 164.20,70.68 164.10,70.94 164.14,70.96 164.31,70.92 164.31,72.02 164.14,72.06 164.10,72.17 164.20,72.51 164.43,72.82 164.77,73.07 165.22,73.24 165.75,73.31 166.33,73.46 166.93,73.50 167.53,73.41 168.09,73.20 168.58,72.89 168.99,72.48 169.29,72.00" fill="#1f50d6" stroke="#1f50d6" stroke-width="0.3"/>
<polygon points="169.29,74.05 168.99,74.20 168.58,74.36 168.09,74.53 167.53,74.71 166.93,74.90 166.33,75.10 165.75,75.32 165.22,75.55 164.77,75.78 164.43,76.03 164.20,76.28 164.10,76.54 164.14,76.56 164.31,76.52 164.31,77.62 164.14,77.66 164.10,77.77 164.20,78.11 164.43,78.42 164.77,78.67 165.22,78.84 165.75,78.91 166.33,78.86 166.93,78.70 167.53,78.41 168.09,78.00 168.58,77.49 168.99,76.88 169.29,76.20" fill="#1f50d6" stroke="#1f50d6" stroke-width="0.3"/>
<polygon points="169.29,79.65 168.99,79.80 168.58,79.96 168.09,80.13 167.53,80.31 166.93,80.50 166.33,80.70 165.75,80.92 165.22,81.15 164.77,81.38 164.43,81.63 164.20,81.88 164.10,82.14 164.14,82.16 164.31,82.12 164.31,83.22 164.14,83.26 164.10,83.37 164.20,83.71 164.43,84.02 164.77,84.27 165.22,84.44 165.75,84.51 166.33,84.46 166.93,84.30 167.53,84.01 168.09,83.60 168.58,83.09 168.99,82.48 169.29,81.80" fill="#1f50d6" stroke="#1f50d6" stroke-width="0.3"/>
<polygon points="169.29,85.25 168.99,85.40 168.58,85.56 168.09,85.73 167.53,85.91 166.93,86.10 166.33,86.30 165.75,86.52 165.22,86.75 164.77,86.98 164.43,87.23 164.20,87.48 164.10,87.74 164.14,87.76 164.31,87.72 164.31,88.82 164.14,88.86 164.10,88.97 164.20,89.31 164.43,89.62 164.77,89.87 165.22,90.04 165.75,90.11 166.33,90.06 166.93,89.90 167.53,89.61 168.09,89.20 168.58,88.69 168.99,88.08 169.29,87.40" fill="#1f50d6" stroke="#1f50d6" stroke-width="0.3"/>
<polygon points="169.29,90.85 168.99,91.00 168.58,91.16 168.09,91.33 167.53,91.51 166.93,91.70 166.33,91.90 165.75,92.12 165.22,92.35 164.77,92.58 164.43,92.83 164.20,93.08 164.10,93.34 164.14,93.36 164.31,93.32 164.31,94.42 164.14,94.46 164.10,94.57 164.20,94.91 164.43,95.22 164.77,95.47 165.22,95.64 165.75,95.71 166.33,95.66 166.93,95.50 167.53,95.21 168.09,94.80 168.58,94.29 168.99,93.68 169.29,93.00" fill="#1f50d6" stroke="#1f50d6" stroke-width="0.3"/>
<ellipse cx="164.00" cy="113.00" rx="1.2" ry="2.8" fill="none" stroke="#1a3c9c" stroke-width="1.15"/>
<ellipse cx="166.45" cy="113.25" rx="1.2" ry="2.8" fill="none" stroke="#1a3c9c" stroke-width="1.15"/>
<ellipse cx="168.90" cy="113.50" rx="1.2" ry="2.8" fill="none" stroke="#1a3c9c" stroke-width="1.15"/>
<ellipse cx="171.35" cy="113.75" rx="1.2" ry="2.8" fill="none" stroke="#1a3c9c" stroke-width="1.15"/>
<ellipse cx="173.80" cy="114.00" rx="1.2" ry="2.8" fill="none" stroke="#1a3c9c" stroke-width="1.15"/>
<ellipse cx="176.25" cy="114.25" rx="1.2" ry="2.8" fill="none" stroke="#2a6cb8" stroke-width="1.15"/>
<ellipse cx="178.70" cy="114.50" rx="1.2" ry="2.8" fill="none" stroke="#2a6cb8" stroke-width="1.15"/>
<ellipse cx="181.15" cy="114.75" rx="1.2" ry="2.8" fill="none" stroke="#58a8c0" stroke-width="1.15"/>
<ellipse cx="183.60" cy="115.00" rx="1.2" ry="2.8" fill="none" stroke="#a8d0d0" stroke-width="1.15"/>
<path d="M162.5,112 C163.2,112.4 163.6,112.8 164,113" fill="none" stroke="#1a3c9c" stroke-width="1"/>
<path d="M184.6,115.2 C185.5,113.5 186.5,110.7 187.5,111 C188.5,111.4 189,112 190,111.4 C191,110.6 192,110.2 193,110.8 C194,111.4 195,111.8 196.5,111.8 C198,111.8 199,112.4 200.2,113.3" fill="none" stroke="#dcc8b8" stroke-width="0.8"/>
<path d="M179.5,74.8 C180.5,75.6 181.2,76.4 181.6,77.2" fill="none" stroke="#f2b400" stroke-width="1.2"/>
<polygon points="179.56,76.50 179.60,76.48 179.72,76.43 179.91,76.38 180.18,76.31 180.50,76.25 180.86,76.20 181.26,76.17 181.66,76.17 182.06,76.21 182.43,76.28 182.76,76.39 183.04,76.55 183.25,76.74 183.38,76.97 183.72,77.87 183.59,77.64 183.38,77.44 183.10,77.29 182.77,77.18 182.40,77.10 182.00,77.07 181.60,77.07 181.20,77.10 180.84,77.15 180.52,77.21 180.25,77.27 180.06,77.33 179.94,77.37 179.90,77.39" fill="#e0a000" stroke="#e0a000" stroke-width="0.3"/>
<polygon points="180.84,79.86 180.88,79.84 181.00,79.80 181.19,79.74 181.46,79.68 181.78,79.61 182.14,79.57 182.54,79.54 182.94,79.54 183.34,79.57 183.71,79.64 184.04,79.76 184.32,79.91 184.53,80.10 184.66,80.33 185.00,81.23 184.87,81.00 184.66,80.81 184.39,80.65 184.05,80.54 183.68,80.47 183.28,80.43 182.88,80.43 182.49,80.46 182.12,80.51 181.80,80.57 181.53,80.64 181.34,80.70 181.22,80.74 181.18,80.76" fill="#e0a000" stroke="#e0a000" stroke-width="0.3"/>
<polygon points="182.12,83.23 182.16,83.21 182.28,83.16 182.47,83.10 182.74,83.04 183.06,82.98 183.43,82.93 183.82,82.90 184.22,82.90 184.62,82.93 184.99,83.01 185.33,83.12 185.60,83.27 185.81,83.47 185.94,83.70 186.28,84.59 186.15,84.37 185.94,84.17 185.67,84.02 185.34,83.90 184.96,83.83 184.57,83.80 184.16,83.80 183.77,83.83 183.40,83.88 183.08,83.94 182.82,84.00 182.62,84.06 182.50,84.10 182.47,84.12" fill="#e0a000" stroke="#e0a000" stroke-width="0.3"/>
<polygon points="182.45,74.52 182.38,74.47 182.24,74.46 182.03,74.48 181.76,74.53 181.45,74.61 181.11,74.72 180.75,74.85 180.45,75.11 180.16,75.38 179.92,75.64 179.73,75.91 179.61,76.15 179.56,76.37 179.59,76.57 179.87,77.32 179.99,77.50 180.17,77.63 180.42,77.70 180.71,77.71 181.03,77.64 181.36,77.50 181.68,77.28 182.02,77.11 182.31,76.87 182.55,76.59 182.72,76.27 182.81,75.94 182.81,75.60 182.73,75.27" fill="#f5b800" stroke="#f5b800" stroke-width="0.3"/>
<polygon points="183.41,77.04 183.39,77.12 183.30,77.22 183.13,77.36 182.91,77.53 182.64,77.73 182.34,77.96 182.03,78.21 181.73,78.47 181.45,78.74 181.20,79.01 181.01,79.27 180.89,79.51 180.84,79.74 180.87,79.94 181.16,80.68 181.27,80.86 181.45,80.99 181.70,81.07 181.99,81.07 182.31,81.00 182.64,80.86 182.96,80.64 183.25,80.35 183.50,80.00 183.69,79.60 183.82,79.16 183.86,78.70 183.82,78.24 183.69,77.79" fill="#f5b800" stroke="#f5b800" stroke-width="0.3"/>
<polygon points="184.69,80.41 184.67,80.48 184.58,80.59 184.41,80.73 184.19,80.90 183.92,81.10 183.62,81.33 183.31,81.57 183.01,81.84 182.73,82.10 182.48,82.37 182.30,82.63 182.17,82.88 182.12,83.10 182.15,83.30 182.44,84.05 182.55,84.22 182.73,84.36 182.98,84.43 183.27,84.44 183.59,84.37 183.92,84.22 184.24,84.00 184.53,83.71 184.78,83.36 184.98,82.96 185.10,82.52 185.14,82.06 185.10,81.60 184.97,81.16" fill="#f5b800" stroke="#f5b800" stroke-width="0.3"/>
<polygon points="185.97,83.77 185.96,83.82 185.92,83.89 185.83,83.98 185.70,84.09 185.54,84.21 185.36,84.35 185.15,84.51 184.92,84.68 184.69,84.86 184.46,85.05 184.24,85.24 184.03,85.44 183.85,85.64 183.68,85.84 184.43,87.81 184.66,87.78 184.90,87.72 185.15,87.62 185.39,87.47 185.62,87.28 185.83,87.06 186.02,86.80 186.18,86.51 186.30,86.20 186.38,85.87 186.42,85.53 186.41,85.19 186.36,84.85 186.26,84.52" fill="#f5b800" stroke="#f5b800" stroke-width="0.3"/>
<path d="M185.2,85 C186.5,86.5 187.5,87.5 187.8,88.4 C188.3,90 188,91.8 188.7,92.9 C189.5,93.8 190.2,94 190.4,94.7 C190.8,96 190.6,97.4 191.3,98.2 C192.2,99 193.3,99.8 193.1,100.9 C192.9,102 191.8,102.8 192.2,103.6 C192.8,104.8 194.2,105.4 194.9,106.2 C195.8,107.2 196,108.2 196.7,108.9 C197.4,109.8 197.6,110.8 198.1,111.6 C198.8,112.6 199.8,112.6 200.2,113.3 C200.8,114.2 200.8,115.2 201.1,116 C201.4,117 201.4,118 201.6,118.7 C201.8,119.8 201.8,120.6 202,121.3 C202.2,122 202.6,122.6 202.9,123.1" fill="none" stroke="#d2b050" stroke-width="0.9"/>
<text x="260.20" y="33.10" font-size="7.42" text-anchor="start" fill="#1a1a1a" class="lt" >Deep TMHMM posterior probabilities for Rv1476</text>
<text x="256.90" y="44.40" font-size="7.3" text-anchor="end" fill="#1a1a1a" class="lt" >Outside</text>
<text x="256.90" y="51.70" font-size="7.3" text-anchor="end" fill="#1a1a1a" class="lt" >Membrane</text>
<text x="256.90" y="58.90" font-size="7.3" text-anchor="end" fill="#1a1a1a" class="lt" >Inside</text>
<line x1="267.70" y1="41" x2="267.70" y2="57.8" stroke="#e2e2e2" stroke-width="0.6"/>
<line x1="267.70" y1="65" x2="267.70" y2="142.2" stroke="#e2e2e2" stroke-width="0.6"/>
<line x1="286.97" y1="41" x2="286.97" y2="57.8" stroke="#e2e2e2" stroke-width="0.6"/>
<line x1="286.97" y1="65" x2="286.97" y2="142.2" stroke="#e2e2e2" stroke-width="0.6"/>
<line x1="306.25" y1="41" x2="306.25" y2="57.8" stroke="#e2e2e2" stroke-width="0.6"/>
<line x1="306.25" y1="65" x2="306.25" y2="142.2" stroke="#e2e2e2" stroke-width="0.6"/>
<line x1="325.52" y1="41" x2="325.52" y2="57.8" stroke="#e2e2e2" stroke-width="0.6"/>
<line x1="325.52" y1="65" x2="325.52" y2="142.2" stroke="#e2e2e2" stroke-width="0.6"/>
<line x1="344.80" y1="41" x2="344.80" y2="57.8" stroke="#e2e2e2" stroke-width="0.6"/>
<line x1="344.80" y1="65" x2="344.80" y2="142.2" stroke="#e2e2e2" stroke-width="0.6"/>
<line x1="364.07" y1="41" x2="364.07" y2="57.8" stroke="#e2e2e2" stroke-width="0.6"/>
<line x1="364.07" y1="65" x2="364.07" y2="142.2" stroke="#e2e2e2" stroke-width="0.6"/>
<line x1="383.35" y1="41" x2="383.35" y2="57.8" stroke="#e2e2e2" stroke-width="0.6"/>
<line x1="383.35" y1="65" x2="383.35" y2="142.2" stroke="#e2e2e2" stroke-width="0.6"/>
<line x1="402.62" y1="41" x2="402.62" y2="57.8" stroke="#e2e2e2" stroke-width="0.6"/>
<line x1="402.62" y1="65" x2="402.62" y2="142.2" stroke="#e2e2e2" stroke-width="0.6"/>
<line x1="261" y1="49.8" x2="418" y2="49.8" stroke="#e2e2e2" stroke-width="0.6"/>
<line x1="261" y1="142.20" x2="418" y2="142.20" stroke="#e2e2e2" stroke-width="0.6"/>
<line x1="261" y1="127.40" x2="418" y2="127.40" stroke="#e2e2e2" stroke-width="0.6"/>
<line x1="261" y1="112.60" x2="418" y2="112.60" stroke="#e2e2e2" stroke-width="0.6"/>
<line x1="261" y1="97.80" x2="418" y2="97.80" stroke="#e2e2e2" stroke-width="0.6"/>
<line x1="261" y1="83.00" x2="418" y2="83.00" stroke="#e2e2e2" stroke-width="0.6"/>
<line x1="261" y1="68.20" x2="418" y2="68.20" stroke="#e2e2e2" stroke-width="0.6"/>
<rect x="261" y="41.2" width="157.2" height="16.6" fill="none" stroke="#d0d0d0" stroke-width="0.6"/>
<rect x="261" y="65" width="157.2" height="77.2" fill="none" stroke="#d0d0d0" stroke-width="0.6"/>
<rect x="259" y="40.5" width="160.8" height="103.7" fill="none" stroke="#8a8a8a" stroke-width="1.3"/>
<line x1="267.7" y1="42.5" x2="381.2" y2="42.5" stroke="#3a9ad0" stroke-width="1.1"/>
<rect x="381.2" y="42.3" width="7.3" height="14.8" fill="#ff1010"/>
<line x1="388.5" y1="57" x2="410.8" y2="57" stroke="#ff9ccc" stroke-width="1.1"/>
<line x1="267.7" y1="142.2" x2="384" y2="142.2" stroke="#ffc0d0" stroke-width="0.6"/>
<path d="M377.4,142.2 C378.4,136 379.6,125 380.5,108 C381.3,92 381.8,80 382.8,72 C383.4,68.5 384.5,68.2 385.8,68.3 C387.2,68.4 388,69.5 388.3,72 C389,82 389.4,95 389.9,108 C390.5,122 391.6,134 393.0,142.2 Z" fill="#ff1010"/>
<path d="M388.8,142.2 C389.8,138 390.2,125 390.5,108 C390.8,92 391.2,78 391.8,72 C392.2,69 392.8,68.3 394,68.3 L410.8,68.3" fill="none" stroke="#ff9ccc" stroke-width="1"/>
<path d="M267.70,68.20 L376.5,68.20 C378.3,68.3 379.6,70 380.5,76 C381.3,84 381.9,100 382.8,120 C383.5,134 384,141 385.5,142.2 L410.8,142.2" fill="none" stroke="#3a9ad0" stroke-width="1"/>
<line x1="264.4" y1="125.8" x2="272.2" y2="125.8" stroke="#f26c6c" stroke-width="1"/>
<text x="274.70" y="128.10" font-size="7.4" text-anchor="start" fill="#1a1a1a" class="lt" >Membrane</text>
<line x1="264.4" y1="132.3" x2="272.2" y2="132.3" stroke="#ff9ccc" stroke-width="1"/>
<text x="274.70" y="134.60" font-size="7.4" text-anchor="start" fill="#1a1a1a" class="lt" >Inside</text>
<line x1="264.4" y1="138.8" x2="272.2" y2="138.8" stroke="#3a9ad0" stroke-width="1"/>
<text x="274.70" y="141.10" font-size="7.4" text-anchor="start" fill="#1a1a1a" class="lt" >Outside</text>
<text x="257.40" y="145.10" font-size="7.8" text-anchor="end" fill="#1a1a1a" class="lt" >0.0</text>
<text x="257.40" y="130.30" font-size="7.8" text-anchor="end" fill="#1a1a1a" class="lt" >0.2</text>
<text x="257.40" y="115.50" font-size="7.8" text-anchor="end" fill="#1a1a1a" class="lt" >0.4</text>
<text x="257.40" y="100.70" font-size="7.8" text-anchor="end" fill="#1a1a1a" class="lt" >0.6</text>
<text x="257.40" y="85.90" font-size="7.8" text-anchor="end" fill="#1a1a1a" class="lt" >0.8</text>
<text x="257.40" y="71.10" font-size="7.8" text-anchor="end" fill="#1a1a1a" class="lt" >1.0</text>
<text x="267.70" y="153.00" font-size="7.7" text-anchor="middle" fill="#1a1a1a" class="lt" >0</text>
<text x="286.97" y="153.00" font-size="7.7" text-anchor="middle" fill="#1a1a1a" class="lt" >25</text>
<text x="306.25" y="153.00" font-size="7.7" text-anchor="middle" fill="#1a1a1a" class="lt" >50</text>
<text x="325.52" y="153.00" font-size="7.7" text-anchor="middle" fill="#1a1a1a" class="lt" >75</text>
<text x="344.80" y="153.00" font-size="7.7" text-anchor="middle" fill="#1a1a1a" class="lt" >100</text>
<text x="364.07" y="153.00" font-size="7.7" text-anchor="middle" fill="#1a1a1a" class="lt" >125</text>
<text x="383.35" y="153.00" font-size="7.7" text-anchor="middle" fill="#1a1a1a" class="lt" >150</text>
<text x="402.62" y="153.00" font-size="7.7" text-anchor="middle" fill="#1a1a1a" class="lt" >175</text>
<text x="0.00" y="0.00" font-size="11.1" text-anchor="middle" fill="#1a1a1a" class="lt" transform="translate(239.0,104.5) rotate(-90)">Probability</text>
<text x="0.00" y="0.00" font-size="9.3" text-anchor="middle" fill="#1a1a1a" class="lt" transform="translate(448.0,82.7) rotate(-90)">Relative mRNA expression</text>
<line x1="474.3" y1="40" x2="474.3" y2="80.3" stroke="#555" stroke-width="0.7"/>
<line x1="474.3" y1="85.8" x2="474.3" y2="125.3" stroke="#555" stroke-width="0.7"/>
<path d="M474.3,80.3 C472.5,81.8 476.2,83.2 474.3,85.0" fill="none" stroke="#555" stroke-width="0.6"/>
<line x1="472.3" y1="40" x2="474.3" y2="40" stroke="#555" stroke-width="0.6"/>
<text x="471.20" y="43.10" font-size="8.8" text-anchor="end" fill="#1a1a1a" class="lt" >8000</text>
<line x1="472.3" y1="50" x2="474.3" y2="50" stroke="#555" stroke-width="0.6"/>
<text x="471.20" y="53.10" font-size="8.8" text-anchor="end" fill="#1a1a1a" class="lt" >7000</text>
<line x1="472.3" y1="60" x2="474.3" y2="60" stroke="#555" stroke-width="0.6"/>
<text x="471.20" y="63.10" font-size="8.8" text-anchor="end" fill="#1a1a1a" class="lt" >6000</text>
<line x1="472.3" y1="70" x2="474.3" y2="70" stroke="#555" stroke-width="0.6"/>
<text x="471.20" y="73.10" font-size="8.8" text-anchor="end" fill="#1a1a1a" class="lt" >5000</text>
<line x1="472.3" y1="80" x2="474.3" y2="80" stroke="#555" stroke-width="0.6"/>
<text x="471.20" y="83.10" font-size="8.8" text-anchor="end" fill="#1a1a1a" class="lt" >4000</text>
<line x1="472.3" y1="86.20" x2="474.3" y2="86.20" stroke="#555" stroke-width="0.6"/>
<text x="471.20" y="89.30" font-size="8.8" text-anchor="end" fill="#1a1a1a" class="lt" >10</text>
<line x1="472.3" y1="93.96" x2="474.3" y2="93.96" stroke="#555" stroke-width="0.6"/>
<text x="471.20" y="97.06" font-size="8.8" text-anchor="end" fill="#1a1a1a" class="lt" >8</text>
<line x1="472.3" y1="101.72" x2="474.3" y2="101.72" stroke="#555" stroke-width="0.6"/>
<text x="471.20" y="104.82" font-size="8.8" text-anchor="end" fill="#1a1a1a" class="lt" >6</text>
<line x1="472.3" y1="109.48" x2="474.3" y2="109.48" stroke="#555" stroke-width="0.6"/>
<text x="471.20" y="112.58" font-size="8.8" text-anchor="end" fill="#1a1a1a" class="lt" >4</text>
<line x1="472.3" y1="117.24" x2="474.3" y2="117.24" stroke="#555" stroke-width="0.6"/>
<text x="471.20" y="120.34" font-size="8.8" text-anchor="end" fill="#1a1a1a" class="lt" >2</text>
<line x1="472.3" y1="125.00" x2="474.3" y2="125.00" stroke="#555" stroke-width="0.6"/>
<text x="471.20" y="128.10" font-size="8.8" text-anchor="end" fill="#1a1a1a" class="lt" >0</text>
<rect x="482.5" y="121.8" width="16.3" height="3.4" fill="#9dbcd4" stroke="#86a6c4" stroke-width="0.5"/>
<line x1="486.6" y1="121.1" x2="494.8" y2="121.1" stroke="#a0bcd4" stroke-width="0.6"/>
<rect x="507" y="54" width="16.5" height="26.3" fill="#ca6a70"/>
<line x1="507" y1="54.5" x2="523.5" y2="54.5" stroke="#c0505e" stroke-width="1"/>
<line x1="507" y1="86.8" x2="523.5" y2="86.8" stroke="#c0505e" stroke-width="1"/>
<rect x="507" y="86.3" width="16.5" height="39" fill="#ca6a70"/>
<line x1="515.3" y1="54" x2="515.3" y2="47.8" stroke="#d86a78" stroke-width="0.9"/>
<line x1="511.4" y1="47.9" x2="519.4" y2="47.9" stroke="#d86a78" stroke-width="1.2"/>
<line x1="474.3" y1="125.3" x2="531.7" y2="125.3" stroke="#555" stroke-width="0.7"/>
<line x1="490.6" y1="125.3" x2="490.6" y2="127.2" stroke="#555" stroke-width="0.6"/>
<line x1="515.2" y1="125.3" x2="515.2" y2="127.2" stroke="#555" stroke-width="0.6"/>
<line x1="485.6" y1="42.7" x2="515.6" y2="42.7" stroke="#333" stroke-width="0.8"/>
<text x="500.40" y="43.56" font-size="11" text-anchor="middle" fill="#1a1a1a" class="lt" letter-spacing="0.8" style="stroke-width:0.45px">****</text>
<text x="0.00" y="0.00" font-size="9.0" text-anchor="end" fill="#1a1a1a" class="lt" transform="translate(493.6,131.2) rotate(-45)">M.tb-pMV261</text>
<text x="0.00" y="0.00" font-size="9.0" text-anchor="end" fill="#1a1a1a" class="lt" transform="translate(517.0,131.4) rotate(-45)">M.tb-Rv1476</text>
<line x1="35.5" y1="246.7" x2="35.5" y2="331.75" stroke="#8a8a8a" stroke-width="0.9"/>
<line x1="35.5" y1="331.75" x2="164.2" y2="331.75" stroke="#8a8a8a" stroke-width="0.9"/>
<line x1="33.9" y1="246.70" x2="35.5" y2="246.70" stroke="#8a8a8a" stroke-width="0.7"/>
<text x="31.70" y="249.40" font-size="9.0" text-anchor="end" fill="#1a1a1a" >3.0</text>
<line x1="33.9" y1="275.05" x2="35.5" y2="275.05" stroke="#8a8a8a" stroke-width="0.7"/>
<text x="31.70" y="277.75" font-size="9.0" text-anchor="end" fill="#1a1a1a" >2.5</text>
<line x1="33.9" y1="303.40" x2="35.5" y2="303.40" stroke="#8a8a8a" stroke-width="0.7"/>
<text x="31.70" y="306.10" font-size="9.0" text-anchor="end" fill="#1a1a1a" >2.0</text>
<line x1="33.9" y1="331.75" x2="35.5" y2="331.75" stroke="#8a8a8a" stroke-width="0.7"/>
<text x="31.70" y="334.45" font-size="9.0" text-anchor="end" fill="#1a1a1a" >1.5</text>
<line x1="56.3" y1="331.75" x2="56.3" y2="333.35" stroke="#8a8a8a" stroke-width="0.7"/>
<text x="58.05" y="343.00" font-size="11.0" text-anchor="middle" fill="#1a1a1a" letter-spacing="0.7">0 h</text>
<line x1="85.8" y1="331.75" x2="85.8" y2="333.35" stroke="#8a8a8a" stroke-width="0.7"/>
<text x="86.80" y="343.00" font-size="11.0" text-anchor="middle" fill="#1a1a1a" letter-spacing="0.7">2 h</text>
<line x1="115.0" y1="331.75" x2="115.0" y2="333.35" stroke="#8a8a8a" stroke-width="0.7"/>
<text x="115.35" y="343.00" font-size="11.0" text-anchor="middle" fill="#1a1a1a" letter-spacing="0.7">4 h</text>
<line x1="144.5" y1="331.75" x2="144.5" y2="333.35" stroke="#8a8a8a" stroke-width="0.7"/>
<text x="145.30" y="343.00" font-size="11.0" text-anchor="middle" fill="#1a1a1a" letter-spacing="0.7">8 h</text>
<text x="103.60" y="355.70" font-size="11.1" text-anchor="middle" fill="#1a1a1a" >Treatment time</text>
<text x="0.00" y="0.00" font-size="10.9" text-anchor="middle" fill="#1a1a1a" transform="translate(14.8,284.7) rotate(-90)">Bacterial vitality</text>
<polyline points="56.30,265.03 85.80,280.82 115.00,285.90 144.50,295.20" fill="none" stroke="#ff6464" stroke-width="0.95"/>
<polyline points="56.30,264.18 85.80,271.52 115.00,277.72 144.50,280.54" fill="none" stroke="#6a6aff" stroke-width="0.95"/>
<line x1="56.3" y1="261.48" x2="56.3" y2="268.58" stroke="#ff1a1a" stroke-width="0.7"/>
<line x1="54.8" y1="261.48" x2="57.8" y2="261.48" stroke="#ff1a1a" stroke-width="0.6"/>
<line x1="54.8" y1="268.58" x2="57.8" y2="268.58" stroke="#ff1a1a" stroke-width="0.6"/>
<rect x="54.30" y="263.03" width="4.0" height="4.0" rx="1.0" fill="#ff1a1a"/>
<rect x="83.80" y="278.82" width="4.0" height="4.0" rx="1.0" fill="#ff1a1a"/>
<line x1="115.0" y1="283.92" x2="115.0" y2="287.87" stroke="#ff1a1a" stroke-width="0.7"/>
<line x1="113.5" y1="283.92" x2="116.5" y2="283.92" stroke="#ff1a1a" stroke-width="0.6"/>
<line x1="113.5" y1="287.87" x2="116.5" y2="287.87" stroke="#ff1a1a" stroke-width="0.6"/>
<rect x="113.00" y="283.90" width="4.0" height="4.0" rx="1.0" fill="#ff1a1a"/>
<rect x="142.50" y="293.20" width="4.0" height="4.0" rx="1.0" fill="#ff1a1a"/>
<line x1="56.3" y1="261.36" x2="56.3" y2="267.00" stroke="#1414ff" stroke-width="0.7"/>
<line x1="54.8" y1="261.36" x2="57.8" y2="261.36" stroke="#1414ff" stroke-width="0.6"/>
<line x1="54.8" y1="267.00" x2="57.8" y2="267.00" stroke="#1414ff" stroke-width="0.6"/>
<circle cx="56.3" cy="264.18" r="2.1" fill="#1414ff"/>
<circle cx="85.8" cy="271.52" r="2.1" fill="#1414ff"/>
<circle cx="115.0" cy="277.72" r="2.1" fill="#1414ff"/>
<circle cx="144.5" cy="280.54" r="2.1" fill="#1414ff"/>
<line x1="72" y1="227.5" x2="85" y2="227.5" stroke="#1414ff" stroke-width="1.3"/>
<circle cx="78.7" cy="227.5" r="2.45" fill="#1414ff"/>
<text x="92.30" y="230.90" font-size="9.3" text-anchor="start" fill="#1a1a1a" >M.tb-pMV261</text>
<line x1="72" y1="238.3" x2="85" y2="238.3" stroke="#ff1a1a" stroke-width="1.3"/>
<circle cx="78.7" cy="238.3" r="2.45" fill="#ff1a1a"/>
<text x="92.30" y="241.70" font-size="9.3" text-anchor="start" fill="#1a1a1a" >M.tb-Rv1476</text>
<text x="51.80" y="257.80" font-size="13" text-anchor="start" fill="#1a1a1a" >ns</text>
<text x="86.35" y="271.59" font-size="13" text-anchor="middle" fill="#1a1a1a" letter-spacing="1.5" style="stroke-width:0.5px">*</text>
<text x="115.95" y="277.59" font-size="13" text-anchor="middle" fill="#1a1a1a" letter-spacing="1.5" style="stroke-width:0.5px">*</text>
<text x="146.15" y="278.09" font-size="13" text-anchor="middle" fill="#1a1a1a" letter-spacing="1.5" style="stroke-width:0.5px">**</text>
<text x="73.0" y="206.6" font-size="11" fill="#1a1a1a">6 mM H<tspan font-size="7.5" dy="3.8">2</tspan><tspan dy="-3.8">O</tspan><tspan font-size="7.5" dy="3.8">2</tspan></text>
<line x1="233.0" y1="241.0" x2="233.0" y2="330.7" stroke="#8a8a8a" stroke-width="0.9"/>
<line x1="233.0" y1="330.7" x2="361.0" y2="330.7" stroke="#8a8a8a" stroke-width="0.9"/>
<line x1="231.4" y1="241.00" x2="233.0" y2="241.00" stroke="#8a8a8a" stroke-width="0.7"/>
<text x="229.20" y="244.30" font-size="9.5" text-anchor="end" fill="#1a1a1a" >3.0</text>
<line x1="231.4" y1="270.90" x2="233.0" y2="270.90" stroke="#8a8a8a" stroke-width="0.7"/>
<text x="229.20" y="274.20" font-size="9.5" text-anchor="end" fill="#1a1a1a" >2.5</text>
<line x1="231.4" y1="300.80" x2="233.0" y2="300.80" stroke="#8a8a8a" stroke-width="0.7"/>
<text x="229.20" y="304.10" font-size="9.5" text-anchor="end" fill="#1a1a1a" >2.0</text>
<line x1="231.4" y1="330.70" x2="233.0" y2="330.70" stroke="#8a8a8a" stroke-width="0.7"/>
<text x="229.20" y="334.00" font-size="9.5" text-anchor="end" fill="#1a1a1a" >1.5</text>
<line x1="252.2" y1="330.7" x2="252.2" y2="332.3" stroke="#8a8a8a" stroke-width="0.7"/>
<text x="255.65" y="342.80" font-size="11.0" text-anchor="middle" fill="#1a1a1a" letter-spacing="0.7">0 h</text>
<line x1="281.9" y1="330.7" x2="281.9" y2="332.3" stroke="#8a8a8a" stroke-width="0.7"/>
<text x="285.55" y="342.80" font-size="11.0" text-anchor="middle" fill="#1a1a1a" letter-spacing="0.7">1 h</text>
<line x1="311.3" y1="330.7" x2="311.3" y2="332.3" stroke="#8a8a8a" stroke-width="0.7"/>
<text x="315.25" y="342.80" font-size="11.0" text-anchor="middle" fill="#1a1a1a" letter-spacing="0.7">2 h</text>
<line x1="341.0" y1="330.7" x2="341.0" y2="332.3" stroke="#8a8a8a" stroke-width="0.7"/>
<text x="342.15" y="342.80" font-size="11.0" text-anchor="middle" fill="#1a1a1a" letter-spacing="0.7">3 h</text>
<text x="303.30" y="356.10" font-size="11.1" text-anchor="middle" fill="#1a1a1a" >Treatment time</text>
<text x="0.00" y="0.00" font-size="10.9" text-anchor="middle" fill="#1a1a1a" transform="translate(211.8,284.3) rotate(-90)">Bacterial vitality</text>
<polyline points="252.20,260.14 281.90,306.37 311.30,303.50 341.00,305.41" fill="none" stroke="#ff6464" stroke-width="0.95"/>
<polyline points="252.20,257.45 281.90,290.04 311.30,296.62 341.00,294.52" fill="none" stroke="#6a6aff" stroke-width="0.95"/>
<line x1="252.2" y1="258.35" x2="252.2" y2="261.93" stroke="#ff1a1a" stroke-width="0.7"/>
<line x1="250.7" y1="258.35" x2="253.7" y2="258.35" stroke="#ff1a1a" stroke-width="0.6"/>
<line x1="250.7" y1="261.93" x2="253.7" y2="261.93" stroke="#ff1a1a" stroke-width="0.6"/>
<circle cx="252.2" cy="260.14" r="2.1" fill="#ff1a1a"/>
<circle cx="281.9" cy="306.37" r="2.1" fill="#ff1a1a"/>
<circle cx="311.3" cy="303.50" r="2.1" fill="#ff1a1a"/>
<circle cx="341.0" cy="305.41" r="2.1" fill="#ff1a1a"/>
<line x1="252.2" y1="253.26" x2="252.2" y2="261.63" stroke="#1414ff" stroke-width="0.7"/>
<line x1="250.7" y1="253.26" x2="253.7" y2="253.26" stroke="#1414ff" stroke-width="0.6"/>
<line x1="250.7" y1="261.63" x2="253.7" y2="261.63" stroke="#1414ff" stroke-width="0.6"/>
<circle cx="252.2" cy="257.45" r="2.1" fill="#1414ff"/>
<circle cx="281.9" cy="290.04" r="2.1" fill="#1414ff"/>
<circle cx="311.3" cy="296.62" r="2.1" fill="#1414ff"/>
<circle cx="341.0" cy="294.52" r="2.1" fill="#1414ff"/>
<line x1="264.3" y1="224.8" x2="277.2" y2="224.8" stroke="#1414ff" stroke-width="1.3"/>
<circle cx="270.8" cy="224.8" r="2.45" fill="#1414ff"/>
<text x="284.50" y="228.20" font-size="9.3" text-anchor="start" fill="#1a1a1a" >M.tb-pMV261</text>
<line x1="264.3" y1="235.3" x2="277.2" y2="235.3" stroke="#ff1a1a" stroke-width="1.3"/>
<circle cx="270.8" cy="235.3" r="2.45" fill="#ff1a1a"/>
<text x="284.50" y="238.70" font-size="9.3" text-anchor="start" fill="#1a1a1a" >M.tb-Rv1476</text>
<text x="248.50" y="248.10" font-size="13.2" text-anchor="start" fill="#1a1a1a" >ns</text>
<text x="284.75" y="287.00" font-size="13" text-anchor="middle" fill="#1a1a1a" letter-spacing="1.5" style="stroke-width:0.5px">**</text>
<text x="312.15" y="295.50" font-size="13" text-anchor="middle" fill="#1a1a1a" letter-spacing="1.5" style="stroke-width:0.5px">**</text>
<text x="342.95" y="292.59" font-size="13" text-anchor="middle" fill="#1a1a1a" letter-spacing="1.5" style="stroke-width:0.5px">***</text>
<text x="266.60" y="206.60" font-size="11.2" text-anchor="start" fill="#1a1a1a" >0.05% SDS</text>
<line x1="420.2" y1="241.2" x2="420.2" y2="330.0" stroke="#8a8a8a" stroke-width="0.9"/>
<line x1="420.2" y1="330.0" x2="546.0" y2="330.0" stroke="#8a8a8a" stroke-width="0.9"/>
<line x1="418.59999999999997" y1="241.20" x2="420.2" y2="241.20" stroke="#8a8a8a" stroke-width="0.7"/>
<text x="416.40" y="244.40" font-size="9.0" text-anchor="end" fill="#1a1a1a" >3.0</text>
<line x1="418.59999999999997" y1="256.00" x2="420.2" y2="256.00" stroke="#8a8a8a" stroke-width="0.7"/>
<text x="416.40" y="259.20" font-size="9.0" text-anchor="end" fill="#1a1a1a" >2.5</text>
<line x1="418.59999999999997" y1="270.80" x2="420.2" y2="270.80" stroke="#8a8a8a" stroke-width="0.7"/>
<text x="416.40" y="274.00" font-size="9.0" text-anchor="end" fill="#1a1a1a" >2.0</text>
<line x1="418.59999999999997" y1="285.60" x2="420.2" y2="285.60" stroke="#8a8a8a" stroke-width="0.7"/>
<text x="416.40" y="288.80" font-size="9.0" text-anchor="end" fill="#1a1a1a" >1.5</text>
<line x1="418.59999999999997" y1="300.40" x2="420.2" y2="300.40" stroke="#8a8a8a" stroke-width="0.7"/>
<text x="416.40" y="303.60" font-size="9.0" text-anchor="end" fill="#1a1a1a" >1.0</text>
<line x1="418.59999999999997" y1="315.20" x2="420.2" y2="315.20" stroke="#8a8a8a" stroke-width="0.7"/>
<text x="416.40" y="318.40" font-size="9.0" text-anchor="end" fill="#1a1a1a" >0.5</text>
<line x1="418.59999999999997" y1="330.00" x2="420.2" y2="330.00" stroke="#8a8a8a" stroke-width="0.7"/>
<text x="416.40" y="333.20" font-size="9.0" text-anchor="end" fill="#1a1a1a" >0.0</text>
<line x1="446.0" y1="330.0" x2="446.0" y2="331.6" stroke="#8a8a8a" stroke-width="0.7"/>
<text x="447.55" y="342.70" font-size="11.0" text-anchor="middle" fill="#1a1a1a" letter-spacing="0.7">0 h</text>
<line x1="484.1" y1="330.0" x2="484.1" y2="331.6" stroke="#8a8a8a" stroke-width="0.7"/>
<text x="486.35" y="342.70" font-size="11.0" text-anchor="middle" fill="#1a1a1a" letter-spacing="0.7">3 h</text>
<line x1="522.3" y1="330.0" x2="522.3" y2="331.6" stroke="#8a8a8a" stroke-width="0.7"/>
<text x="523.85" y="342.70" font-size="11.0" text-anchor="middle" fill="#1a1a1a" letter-spacing="0.7">6 h</text>
<text x="489.30" y="355.60" font-size="11.1" text-anchor="middle" fill="#1a1a1a" >Treatment time</text>
<text x="0.00" y="0.00" font-size="10.9" text-anchor="middle" fill="#1a1a1a" transform="translate(396.3,284.3) rotate(-90)">Bacterial vitality</text>
<polyline points="446.00,251.47 484.10,292.22 522.30,296.26" fill="none" stroke="#ff6464" stroke-width="0.95"/>
<polyline points="446.00,251.47 484.10,282.10 522.30,290.77" fill="none" stroke="#6a6aff" stroke-width="0.95"/>
<circle cx="446.0" cy="251.47" r="2.1" fill="#ff1a1a"/>
<circle cx="484.1" cy="292.22" r="2.1" fill="#ff1a1a"/>
<circle cx="522.3" cy="296.26" r="2.1" fill="#ff1a1a"/>
<line x1="446.0" y1="250.60" x2="446.0" y2="252.34" stroke="#1414ff" stroke-width="0.7"/>
<line x1="444.5" y1="250.60" x2="447.5" y2="250.60" stroke="#1414ff" stroke-width="0.6"/>
<line x1="444.5" y1="252.34" x2="447.5" y2="252.34" stroke="#1414ff" stroke-width="0.6"/>
<circle cx="446.0" cy="251.47" r="2.1" fill="#1414ff"/>
<line x1="484.1" y1="279.65" x2="484.1" y2="284.56" stroke="#1414ff" stroke-width="0.7"/>
<line x1="482.6" y1="279.65" x2="485.6" y2="279.65" stroke="#1414ff" stroke-width="0.6"/>
<line x1="482.6" y1="284.56" x2="485.6" y2="284.56" stroke="#1414ff" stroke-width="0.6"/>
<circle cx="484.1" cy="282.10" r="2.1" fill="#1414ff"/>
<circle cx="522.3" cy="290.77" r="2.1" fill="#1414ff"/>
<line x1="459" y1="224.4" x2="472" y2="224.4" stroke="#1414ff" stroke-width="1.3"/>
<circle cx="465.4" cy="224.4" r="2.45" fill="#1414ff"/>
<text x="478.80" y="227.80" font-size="9.3" text-anchor="start" fill="#1a1a1a" >M.tb-pMV261</text>
<line x1="459" y1="235.0" x2="472" y2="235.0" stroke="#ff1a1a" stroke-width="1.3"/>
<circle cx="465.4" cy="235.0" r="2.45" fill="#ff1a1a"/>
<text x="478.80" y="238.40" font-size="9.3" text-anchor="start" fill="#1a1a1a" >M.tb-Rv1476</text>
<text x="440.90" y="246.50" font-size="13" text-anchor="start" fill="#1a1a1a" >ns</text>
<text x="485.35" y="280.19" font-size="13" text-anchor="middle" fill="#1a1a1a" letter-spacing="1.5" style="stroke-width:0.5px">**</text>
<text x="523.75" y="288.89" font-size="13" text-anchor="middle" fill="#1a1a1a" letter-spacing="1.5" style="stroke-width:0.5px">***</text>
<text x="431.50" y="206.50" font-size="11.1" text-anchor="start" fill="#1a1a1a" >2.5 mg/ml Lysozyme</text>
</svg>
</body></html>
